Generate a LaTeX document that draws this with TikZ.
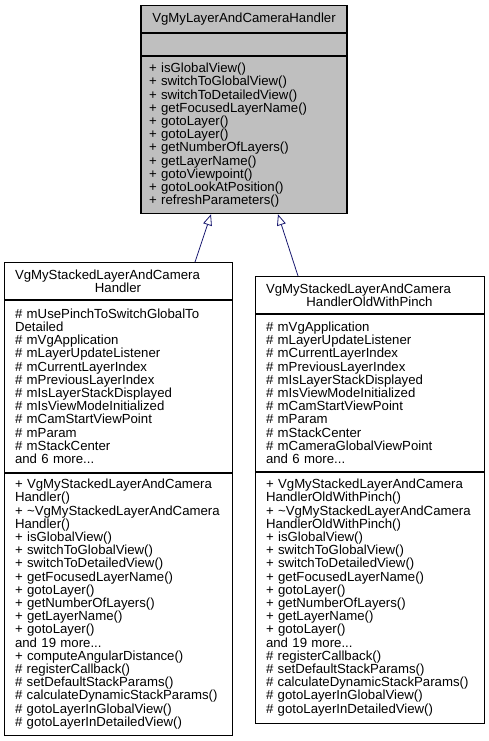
\documentclass[tikz,border=0pt]{standalone}
\usepackage{fontspec}
\usetikzlibrary{arrows.meta, positioning}
\newfontfamily\umlfont{Liberation Sans}
\newcommand{\umltext}{\umlfont\fontsize{13.2}{13.2}\selectfont}
\newcommand{\midline}[1]{\hbox to\hsize{\hfil #1\hfil}}
\definecolor{basegray}{HTML}{BFBFBF}
\definecolor{edgeblue}{HTML}{191970}

\tikzset{
  sect/.style={draw, inner ysep=0pt, align=left, anchor=north, font=\umltext, minimum height=#1},
  cname/.style={sect=#1},
  basecls/.style={fill=basegray, line width=1.1pt, text width=190pt, inner xsep=8pt},
  subcls/.style={fill=white, line width=0.8pt, text width=206pt, inner xsep=11pt},
  inherit/.style={draw=edgeblue, line width=0.8pt, -{Triangle[open, length=11pt, width=9pt]}}
}

\begin{document}
\begin{tikzpicture}[x=1pt, y=-1pt]
  \useasboundingbox (0,0) rectangle (489,741);

  % base class
  \node[cname=27, basecls, align=center] (base) at (244,5) {VgMyLayerAndCameraHandler};
  \node[sect=22, basecls, below=0pt of base] (baseattr) {};
  \node[sect=157, basecls, below=0pt of baseattr] (basemeth) {+ isGlobalView()\\
    + switchToGlobalView()\\
    + switchToDetailedView()\\
    + getFocusedLayerName()\\
    + gotoLayer()\\
    + gotoLayer()\\
    + getNumberOfLayers()\\
    + getLayerName()\\
    + gotoViewpoint()\\
    + gotoLookAtPosition()\\
    + refreshParameters()};

  % stacked handler
  \node[cname=37, subcls] (stacked) at (118,262) {VgMyStackedLayerAndCamera\\\midline{Handler}};
  \node[sect=172, subcls, below=0pt of stacked] (stackedattr) {\# mUsePinchToSwitchGlobalTo\\
    Detailed\\
    \# mVgApplication\\
    \# mLayerUpdateListener\\
    \# mCurrentLayerIndex\\
    \# mPreviousLayerIndex\\
    \# mIsLayerStackDisplayed\\
    \# mIsViewModeInitialized\\
    \# mCamStartViewPoint\\
    \# mParam\\
    \# mStackCenter\\
    and 6 more...};
  \node[sect=262, subcls, below=0pt of stackedattr] (stackedmeth) {+ VgMyStackedLayerAndCamera\\
    Handler()\\
    + \textasciitilde VgMyStackedLayerAndCamera\\
    Handler()\\
    + isGlobalView()\\
    + switchToGlobalView()\\
    + switchToDetailedView()\\
    + getFocusedLayerName()\\
    + gotoLayer()\\
    + getNumberOfLayers()\\
    + getLayerName()\\
    + gotoLayer()\\
    and 19 more...\\
    + computeAngularDistance()\\
    \# registerCallback()\\
    \# setDefaultStackParams()\\
    \# calculateDynamicStackParams()\\
    \# gotoLayerInGlobalView()\\
    \# gotoLayerInDetailedView()};

  % old handler with pinch
  \node[cname=37, subcls, text width=207pt] (pinch) at (369.5,276) {VgMyStackedLayerAndCamera\\\midline{HandlerOldWithPinch}};
  \node[sect=157, subcls, text width=207pt, below=0pt of pinch] (pinchattr) {\# mVgApplication\\
    \# mLayerUpdateListener\\
    \# mCurrentLayerIndex\\
    \# mPreviousLayerIndex\\
    \# mIsLayerStackDisplayed\\
    \# mIsViewModeInitialized\\
    \# mCamStartViewPoint\\
    \# mParam\\
    \# mStackCenter\\
    \# mCameraGlobalViewPoint\\
    and 6 more...};
  \node[sect=251, subcls, text width=207pt, below=0pt of pinchattr] (pinchmeth) {+ VgMyStackedLayerAndCamera\\
    HandlerOldWithPinch()\\
    + \textasciitilde VgMyStackedLayerAndCamera\\
    HandlerOldWithPinch()\\
    + isGlobalView()\\
    + switchToGlobalView()\\
    + switchToDetailedView()\\
    + getFocusedLayerName()\\
    + gotoLayer()\\
    + getNumberOfLayers()\\
    + getLayerName()\\
    + gotoLayer()\\
    and 19 more...\\
    \# registerCallback()\\
    \# setDefaultStackParams()\\
    \# calculateDynamicStackParams()\\
    \# gotoLayerInGlobalView()\\
    \# gotoLayerInDetailedView()};

  \draw[inherit] ([xshift=77pt]stacked.north) -- ([xshift=-33pt]basemeth.south);
  \draw[inherit] ([xshift=-71.5pt]pinch.north) -- ([xshift=34pt]basemeth.south);
\end{tikzpicture}
\end{document}
